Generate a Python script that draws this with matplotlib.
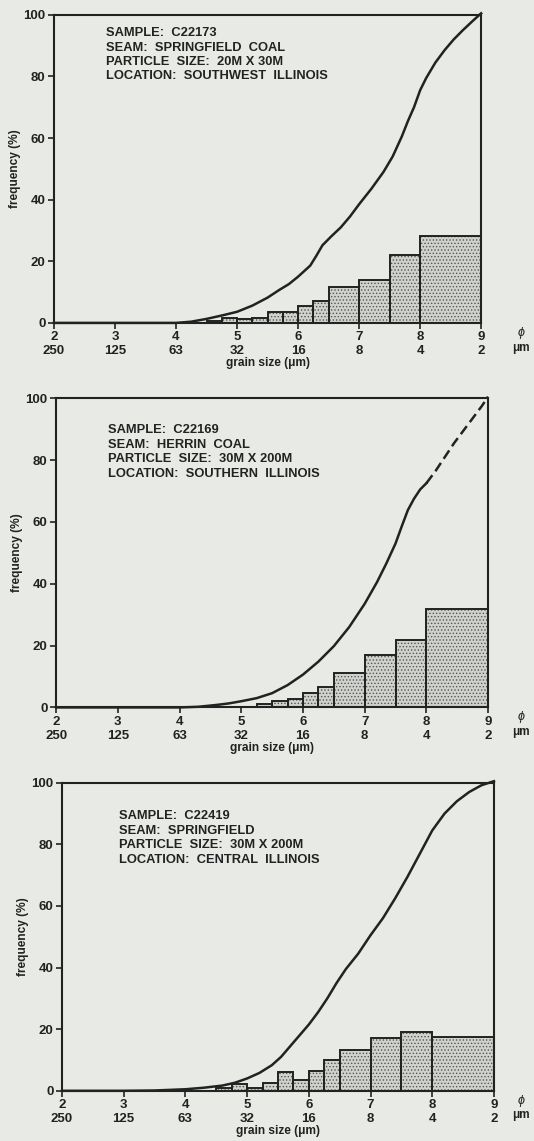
import numpy as np
import matplotlib
matplotlib.use("Agg")
import matplotlib.pyplot as plt
from matplotlib.transforms import blended_transform_factory

plt.rcParams['font.family'] = ['Liberation Sans', 'DejaVu Sans']
plt.rcParams['hatch.color'] = '#555555'
plt.rcParams['hatch.linewidth'] = 0.6

BG = '#e8ebe5'

# phi scale and matching grain size in microns
phi_ticks = [2, 3, 4, 5, 6, 7, 8, 9]
um_labels = ['250', '125', '63', '32', '16', '8', '4', '2']
y_ticks = [0, 20, 40, 60, 80, 100]

# --- sample C22173
info1 = ["SAMPLE:  C22173", "SEAM:  SPRINGFIELD  COAL",
         "PARTICLE  SIZE:  20M X 30M", "LOCATION:  SOUTHWEST  ILLINOIS"]
edges1 = [4.5, 4.75, 5, 5.25, 5.5, 5.75, 6, 6.25, 6.5, 7, 7.5, 8, 9]
freq1 = [0.5, 1.6, 1.2, 1.6, 3.5, 3.5, 5.4, 7.2, 11.8, 14.0, 22.0, 28.3]
cum1_phi = [2, 3, 4.0, 4.25, 4.5, 4.75, 5.0, 5.25, 5.5, 5.7, 5.85, 6.0, 6.1, 6.2,
            6.3, 6.4, 6.55, 6.7, 6.85, 7.0, 7.2, 7.4, 7.55, 7.7, 7.8, 7.9, 8.0,
            8.1, 8.25, 8.4, 8.55, 8.7, 8.85, 9.0]
cum1_val = [0, 0, 0, 0.4, 1.3, 2.4, 3.6, 5.6, 8.2, 10.8, 12.6, 15.0, 16.8, 18.6,
            21.8, 25.2, 28.2, 31.0, 34.5, 38.5, 43.5, 49.0, 54.0, 60.5, 65.5, 70.0,
            75.5, 79.5, 84.5, 88.5, 92.0, 95.0, 97.8, 100.5]

# --- sample C22169
info2 = ["SAMPLE:  C22169", "SEAM:  HERRIN  COAL",
         "PARTICLE  SIZE:  30M X 200M", "LOCATION:  SOUTHERN  ILLINOIS"]
edges2 = [5.25, 5.5, 5.75, 6, 6.25, 6.5, 7, 7.5, 8, 9]
freq2 = [1.0, 2.0, 2.8, 4.6, 6.5, 11.0, 16.8, 21.9, 31.7]
cum2_phi = [2, 3, 4.0, 4.3, 4.6, 4.8, 5.0, 5.25, 5.5, 5.75, 6.0, 6.25, 6.5, 6.75,
            7.0, 7.2, 7.35, 7.5, 7.6, 7.7, 7.8, 7.9, 8.0]
cum2_val = [0, 0, 0, 0.2, 0.8, 1.3, 2.0, 3.0, 4.6, 7.2, 10.6, 14.8, 19.8, 26.0,
            33.5, 40.5, 46.5, 53.0, 58.5, 63.8, 67.5, 70.5, 72.5]
# extrapolated part drawn dashed
cum2x_phi = [8.0, 8.15, 8.3, 8.45, 8.6, 8.75, 8.9, 9.0]
cum2x_val = [72.5, 76.5, 81.0, 85.5, 89.5, 93.5, 97.5, 100.5]

# --- sample C22419
info3 = ["SAMPLE:  C22419", "SEAM:  SPRINGFIELD",
         "PARTICLE  SIZE:  30M X 200M", "LOCATION:  CENTRAL  ILLINOIS"]
edges3 = [4.5, 4.75, 5, 5.25, 5.5, 5.75, 6, 6.25, 6.5, 7, 7.5, 8, 9]
freq3 = [0.8, 2.2, 1.0, 2.6, 6.0, 3.5, 6.3, 10.0, 13.1, 17.0, 19.0, 17.4]
cum3_phi = [2, 3, 3.5, 4.0, 4.3, 4.6, 4.8, 5.0, 5.2, 5.4, 5.55, 5.7, 5.85, 6.0,
            6.15, 6.3, 6.45, 6.6, 6.8, 7.0, 7.2, 7.4, 7.6, 7.8, 8.0, 8.2,
            8.4, 8.6, 8.8, 9.0]
cum3_val = [0, 0, 0.1, 0.5, 1.0, 1.7, 2.6, 4.0, 5.8, 8.3, 11.0, 14.5, 18.0, 21.5,
            25.5, 30.0, 35.0, 39.5, 44.5, 50.5, 56.0, 62.5, 69.5, 77.0, 84.5,
            90.0, 94.0, 97.0, 99.2, 100.5]

panels = [
    (info1, edges1, freq1, cum1_phi, cum1_val, None, None, [0.101, 0.717, 0.800, 0.270], (2.85, 96.0)),
    (info2, edges2, freq2, cum2_phi, cum2_val, cum2x_phi, cum2x_val, [0.105, 0.380, 0.809, 0.271], (2.84, 91.5)),
    (info3, edges3, freq3, cum3_phi, cum3_val, None, None, [0.116, 0.044, 0.809, 0.270], (2.92, 91.0)),
]

fig = plt.figure(figsize=(5.34, 11.41), dpi=100, facecolor=BG)

for info, edges, freq, cphi, cval, xphi, xval, pos, tpos in panels:
    ax = fig.add_axes(pos)
    ax.set_facecolor(BG)
    left = np.array(edges[:-1])
    width = np.diff(edges)
    # stippled fill, then black outlines on top
    ax.bar(left, freq, width=width, align='edge', color='#d0d2ce',
           hatch='.....', linewidth=0, zorder=2)
    ax.bar(left, freq, width=width, align='edge', fill=False,
           edgecolor='#222222', linewidth=1.4, zorder=3)
    ax.plot(cphi, cval, color='#222222', lw=1.8, zorder=4, clip_on=False)
    if xphi is not None:
        ax.plot(xphi, xval, color='#222222', lw=1.8, ls=(0, (4, 2)), zorder=4, clip_on=False)

    ax.set_xlim(2, 9)
    ax.set_ylim(0, 100)
    ax.set_xticks(phi_ticks)
    ax.set_xticklabels([f"{p}\n{u}" for p, u in zip(phi_ticks, um_labels)],
                       fontsize=9.5, fontweight='bold', linespacing=1.2)
    ax.set_yticks(y_ticks)
    ax.set_yticklabels([str(v) for v in y_ticks], fontsize=9.5, fontweight='bold')
    ax.tick_params(direction='out', length=4, width=1.2, color='#222222',
                   pad=2, labelcolor='#222222')
    for s in ax.spines.values():
        s.set_linewidth(1.5)
        s.set_color('#222222')
        s.set_zorder(5)

    ax.set_ylabel("frequency (%)", fontsize=8.6, fontweight='bold', color='#222222', labelpad=2)
    ax.set_xlabel("grain size (\u03bcm)", fontsize=8.6, fontweight='bold', color='#222222', labelpad=0)

    # phi / micron unit markers at the right edge of the figure
    tr = blended_transform_factory(fig.transFigure, ax.transAxes)
    ax.text(0.975, -0.032, "\u03d5", transform=tr, ha='center', va='center',
            fontsize=9, fontstyle='italic', color='#222222')
    ax.text(0.975, -0.080, "\u03bcm", transform=tr, ha='center', va='center',
            fontsize=8.5, fontweight='bold', color='#222222')

    ax.text(tpos[0], tpos[1], "\n".join(info), ha='left', va='top', fontsize=9.3,
            fontweight='bold', color='#222222', linespacing=1.27)

fig.savefig("out.png", dpi=100, facecolor=BG)
